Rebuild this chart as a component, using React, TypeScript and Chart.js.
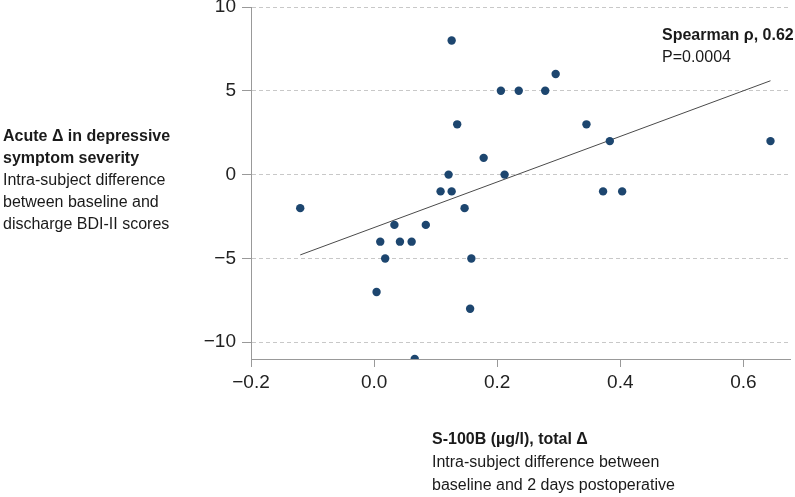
import React, { useEffect, useRef } from "react";
import { Chart, registerables } from "chart.js";

Chart.register(...registerables);

// S-100B total delta (µg/l) per subject
const s100bDelta = [
  -0.12, 0.004, 0.01, 0.018, 0.033, 0.042, 0.061, 0.066, 0.084, 0.108,
  0.121, 0.126, 0.126, 0.135, 0.147, 0.156, 0.158, 0.178, 0.206, 0.212,
  0.235, 0.278, 0.295, 0.345, 0.372, 0.383, 0.403, 0.644,
];
// Acute delta in BDI-II scores per subject
const bdiDelta = [
  -2, -7, -4, -5, -3, -4, -4, -11, -3, -1,
  0, -1, 8, 3, -2, -8, -5, 1, 5, 0,
  5, 5, 6, 3, -1, 2, -1, 2,
];
// Fitted line endpoints
const trendX = [-0.12, 0.644];
const trendY = [-4.79, 5.6];

const xTicks = [-0.2, 0, 0.2, 0.4, 0.6];
const yTicks = [-10, -5, 0, 5, 10];
const xMin = -0.2;
const xMax = 0.677;
const yMin = -11;
const yMax = 10;

const FONT = '"Liberation Sans", Arial, Helvetica, sans-serif';

const fmt = (v: number, digits: number) => {
  const s = Math.abs(v).toFixed(digits);
  return v < 0 ? "\u2212" + s : s;
};

export default function App() {
  const ref = useRef<HTMLCanvasElement | null>(null);

  useEffect(() => {
    if (!ref.current) return;
    const points = s100bDelta.map((x, i) => ({ x, y: bdiDelta[i] }));
    const trend = trendX.map((x, i) => ({ x, y: trendY[i] }));
    const chart = new Chart(ref.current, {
      type: "scatter",
      data: {
        datasets: [
          {
            type: "line",
            data: trend,
            borderColor: "#4a4a4a",
            borderWidth: 1,
            pointRadius: 0,
            fill: false,
            order: 2,
          } as any,
          {
            type: "scatter",
            data: points,
            backgroundColor: "#1d466f",
            borderColor: "#1d466f",
            borderWidth: 0,
            pointRadius: 4.2,
            order: 1,
          },
        ],
      },
      options: {
        responsive: false,
        animation: false,
        devicePixelRatio: 1,
        layout: { padding: { left: 0, top: 7, right: 2, bottom: 98 } },
        plugins: {
          legend: { display: false },
          tooltip: { enabled: false },
        },
        scales: {
          x: {
            type: "linear",
            min: xMin,
            max: xMax,
            afterBuildTicks: (s: any) => {
              s.ticks = xTicks.map((v) => ({ value: v }));
            },
            afterFit: (s: any) => {
              s.height = 40;
              s.paddingLeft = 0;
              s.paddingRight = 0;
            },
            grid: {
              drawOnChartArea: false,
              drawTicks: true,
              tickLength: 8,
              tickColor: "#999999",
              tickWidth: 1,
            },
            border: { display: true, color: "#999999", width: 1 },
            ticks: {
              font: { family: FONT, size: 19 },
              color: "#222222",
              padding: 4,
              maxRotation: 0,
              callback: (v: any) => fmt(Number(v), 1),
            },
          },
          y: {
            type: "linear",
            min: yMin,
            max: yMax,
            afterBuildTicks: (s: any) => {
              s.ticks = yTicks.map((v) => ({ value: v }));
            },
            afterFit: (s: any) => {
              s.width = 251;
              s.paddingTop = 0;
              s.paddingBottom = 0;
            },
            grid: {
              drawOnChartArea: true,
              color: "#c8c8c8",
              lineWidth: 1,
              drawTicks: true,
              tickLength: 9,
              tickColor: "#999999",
              tickWidth: 1,
              tickBorderDash: [],
            },
            border: { display: true, color: "#999999", width: 1, dash: [4, 3] },
            ticks: {
              font: { family: FONT, size: 19 },
              color: "#222222",
              padding: 6,
              callback: (v: any) => fmt(Number(v), 0),
            },
          },
        },
      },
    });
    return () => chart.destroy();
  }, []);

  const textStyle: React.CSSProperties = {
    fontFamily: FONT,
    fontSize: 16,
    lineHeight: "22px",
    color: "#1a1a1a",
    whiteSpace: "nowrap",
  };

  return (
    <div
      style={{
        position: "absolute",
        left: 0,
        top: 0,
        width: 795,
        height: 497,
        background: "#ffffff",
        overflow: "hidden",
      }}
    >
      <canvas ref={ref} width={795} height={497} style={{ display: "block" }} />
      <div style={{ ...textStyle, position: "absolute", left: 3, top: 125 }}>
        <div style={{ fontWeight: "bold" }}>Acute Δ in depressive</div>
        <div style={{ fontWeight: "bold" }}>symptom severity</div>
        <div>Intra-subject difference</div>
        <div>between baseline and</div>
        <div>discharge BDI-II scores</div>
      </div>
      <div style={{ ...textStyle, position: "absolute", left: 432, top: 427, lineHeight: "23px" }}>
        <div style={{ fontWeight: "bold" }}>S-100B (µg/l), total Δ</div>
        <div>Intra-subject difference between</div>
        <div>baseline and 2 days postoperative</div>
      </div>
      <div style={{ ...textStyle, position: "absolute", left: 662, top: 24 }}>
        <div style={{ fontWeight: "bold" }}>Spearman ρ, 0.62</div>
        <div>P=0.0004</div>
      </div>
    </div>
  );
}
